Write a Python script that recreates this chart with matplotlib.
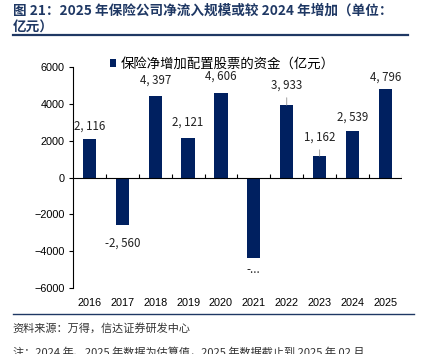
import matplotlib.pyplot as plt
import numpy as np

# 数据
years = ["2016", "2017", "2018", "2019", "2020", "2021", "2022", "2023", "2024", "2025"]
values = [2116, -2560, 4397, 2121, 4606, -4340, 3933, 1162, 2539, 4796]
labels = ["2, 116", "-2, 560", "4, 397", "2, 121", "4, 606", "-...", "3, 933", "1, 162", "2, 539", "4, 796"]
y_ticks = [-6000, -4000, -2000, 0, 2000, 4000, 6000]

# 标签偏移（点）及引导线
offsets = [8.6, -13, 11.5, 11.5, 12, -8.6, 14.4, 13.7, 10, 8.6]
leaders = [False, False, False, False, False, False, True, True, False, False]

CJK = ["Noto Sans CJK SC", "DejaVu Sans"]
NAVY = "#002060"
TITLE_C = "#1F3864"

fig = plt.figure(figsize=(4.32, 3.54), dpi=100)
ax = fig.add_axes([0.169, 0.186, 0.761, 0.625])

x = np.arange(len(years))
ax.bar(x, values, width=0.4, color=NAVY, label="保险净增加配置股票的资金（亿元）", zorder=3)

for xi, v, lab, off, ld in zip(x, values, labels, offsets, leaders):
    arrow = dict(arrowstyle="-", color="#A0A0A0", lw=0.7, shrinkA=2.5, shrinkB=0) if ld else None
    ax.annotate(lab, (xi, v), xytext=(0, off), textcoords="offset points",
                ha="center", va="center", fontsize=8.3, family=CJK, color="#222222",
                arrowprops=arrow, annotation_clip=False)

ax.set_xlim(-0.5, len(years) - 0.5)
ax.set_ylim(-6000, 6000)
ax.set_yticks(y_ticks)
ax.set_xticks(x)
ax.set_xticklabels(years)
ax.tick_params(axis="x", length=0, labelsize=7.8, pad=7)
ax.tick_params(axis="y", length=3, direction="out", labelsize=7.8, pad=3)
for lab in ax.get_xticklabels() + ax.get_yticklabels():
    lab.set_family("Liberation Sans")

for s in ["top", "right", "bottom"]:
    ax.spines[s].set_visible(False)
ax.spines["left"].set_linewidth(0.8)

# 零线与分类刻度
ax.axhline(0, color="black", lw=0.8, zorder=4)
bounds = np.arange(len(years) + 1) - 0.5
ax.vlines(bounds[1:], 0, 170, color="black", lw=0.8, zorder=4)

ax.legend(loc="upper left", bbox_to_anchor=(0.095, 1.07), frameon=False,
          prop={"family": CJK, "size": 9.6}, handlelength=0.5, handleheight=0.5,
          handletextpad=0.3, borderaxespad=0)

# 标题
fig.text(0.03, 0.99, "图 21：2025 年保险公司净流入规模或较 2024 年增加（单位：\n亿元）",
         ha="left", va="top", fontsize=9.8, fontweight="bold", color=TITLE_C,
         family=CJK, linespacing=1.25)
fig.add_artist(plt.Line2D([0.03, 0.945], [0.901, 0.901], color=TITLE_C, lw=1.6))
fig.add_artist(plt.Line2D([0.03, 0.958], [0.112, 0.112], color=TITLE_C, lw=1.0))

fig.text(0.03, 0.073, "资料来源：万得，信达证券研发中心", ha="left", va="center",
         fontsize=8, color="#333333", family=CJK)
fig.text(0.03, 0.004, "注：2024 年、2025 年数据为估算值，2025 年数据截止到 2025 年 02 月",
         ha="left", va="center", fontsize=8, color="#333333", family=CJK)

fig.savefig("out.png", dpi=100)
